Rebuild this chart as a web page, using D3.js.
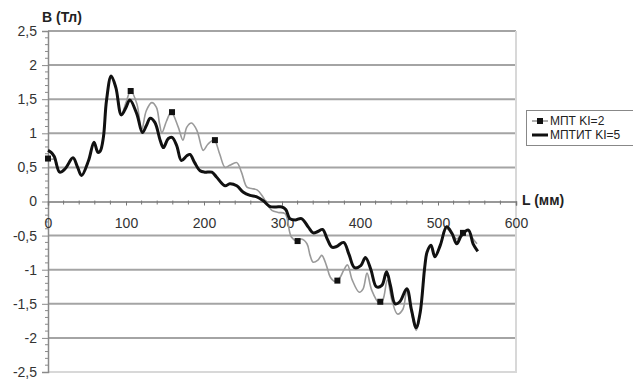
<!DOCTYPE html>
<html>
<head>
<meta charset="utf-8">
<script src="https://cdn.jsdelivr.net/npm/d3@7"></script>
<style>
  body { margin: 0; background: #fff; }
  text { font-family: "Liberation Sans", Arial, sans-serif; }
</style>
</head>
<body>
<div id="chart"></div>
<script>
// МПТИТ Kl=5 (thick black)
const lenK5 = [0, 4, 8, 15, 22, 32, 38, 43, 52, 59, 64, 67, 71, 75, 81, 87, 94, 100, 105, 114, 121, 126, 131, 137, 144, 148, 154, 159, 165, 171, 178, 182, 188, 195, 201, 210, 216, 227, 233, 242, 250, 259, 267, 276, 284, 292, 300, 305, 310, 317, 325, 334, 340, 346, 352, 358, 364, 370, 379, 386, 393, 401, 407, 414, 421, 428, 434, 439, 445, 451, 460, 466, 472, 477, 483, 486, 491, 496, 503, 511, 518, 524, 530, 539, 545, 551];
const bK5 = [0.75, 0.72, 0.66, 0.43, 0.48, 0.64, 0.50, 0.38, 0.60, 0.87, 0.72, 0.74, 0.94, 1.48, 1.84, 1.67, 1.27, 1.38, 1.49, 1.28, 1.01, 1.11, 1.22, 1.16, 0.89, 0.79, 0.92, 0.94, 0.82, 0.60, 0.67, 0.69, 0.57, 0.45, 0.43, 0.43, 0.36, 0.23, 0.26, 0.23, 0.14, 0.09, 0.07, 0.01, -0.07, -0.08, -0.08, -0.12, -0.25, -0.27, -0.25, -0.38, -0.46, -0.44, -0.41, -0.55, -0.67, -0.66, -0.60, -0.78, -0.97, -0.94, -0.82, -1.00, -1.25, -1.23, -1.03, -1.23, -1.50, -1.47, -1.28, -1.59, -1.85, -1.64, -0.96, -0.74, -0.64, -0.81, -0.64, -0.37, -0.47, -0.62, -0.50, -0.42, -0.62, -0.73];

// МПТ Kl=2 (thin grey)
const lenK2 = [0, 5, 9, 15, 22, 32, 38, 43, 52, 59, 64, 67, 71, 75, 81, 87, 94, 100, 106, 114, 120, 126, 133, 139, 143, 146, 152, 158, 167, 173, 178, 184, 191, 199, 205, 213, 220, 227, 233, 242, 248, 255, 261, 268, 276, 282, 287, 295, 304, 312, 320, 325, 332, 336, 340, 346, 351, 357, 362, 368, 374, 379, 384, 390, 399, 404, 409, 415, 424, 429, 435, 441, 448, 455, 460, 466, 472, 477, 483, 486, 491, 496, 503, 511, 518, 524, 531, 538, 545, 550];
const bK2 = [0.63, 0.62, 0.62, 0.43, 0.48, 0.64, 0.50, 0.38, 0.60, 0.87, 0.72, 0.74, 0.94, 1.48, 1.84, 1.67, 1.27, 1.45, 1.62, 1.43, 1.05, 1.33, 1.45, 1.38, 1.14, 1.01, 1.18, 1.31, 1.09, 0.90, 1.09, 1.15, 1.04, 0.75, 0.84, 0.90, 0.70, 0.50, 0.53, 0.57, 0.43, 0.21, 0.19, 0.17, 0.06, -0.06, -0.13, -0.16, -0.18, -0.52, -0.58, -0.55, -0.62, -0.79, -0.89, -0.86, -0.79, -0.94, -1.11, -1.17, -1.12, -1.01, -0.93, -1.15, -1.33, -1.28, -1.05, -1.30, -1.48, -1.45, -1.15, -1.45, -1.65, -1.58, -1.30, -1.62, -1.89, -1.66, -0.97, -0.75, -0.65, -0.80, -0.63, -0.40, -0.48, -0.55, -0.46, -0.42, -0.55, -0.62];

const markLen = [0, 106, 159, 214, 320, 371, 426, 532];
const markB = [0.63, 1.62, 1.31, 0.90, -0.58, -1.16, -1.47, -0.46];

const xTicks = [0, 100, 200, 300, 400, 500, 600];
const yTicks = [-2.5, -2, -1.5, -1, -0.5, 0, 0.5, 1, 1.5, 2, 2.5];
const seriesNames = ["МПТ KI=2", "МПТИТ KI=5"];

const width = 633, height = 379;
const svg = d3.select("#chart").append("svg")
  .attr("width", width)
  .attr("height", height);

const x = d3.scaleLinear().domain([0, 600]).range([48, 516]);
const y = d3.scaleLinear().domain([-2.5, 2.5]).range([372, 31]);
const fmt = d => String(d).replace(".", ",");

// grid
svg.append("g")
  .selectAll("line")
  .data(yTicks.filter(d => d !== 0 && d !== -2.5))
  .join("line")
  .attr("x1", x(0)).attr("x2", x(600))
  .attr("y1", d => y(d)).attr("y2", d => y(d))
  .attr("stroke", "#a4a4a4")
  .attr("stroke-width", 2);

// plot border (bottom, right)
svg.append("path")
  .attr("d", `M${x(0)},${y(-2.5)}H${x(600)}V${y(2.5)}`)
  .attr("fill", "none")
  .attr("stroke", "#d8d8d8")
  .attr("stroke-width", 2);

// y axis
const yAxis = svg.append("g")
  .attr("transform", `translate(${x(0)},0)`)
  .call(d3.axisLeft(y).tickValues(yTicks).tickSize(6).tickFormat(fmt));
yAxis.select(".domain").attr("stroke", "#8a8a8a").attr("stroke-width", 1.5);
yAxis.selectAll(".tick line").attr("stroke", "#8a8a8a");
yAxis.selectAll("text")
  .attr("x", -11)
  .attr("fill", "#333")
  .style("font-size", "14px");

svg.append("g")
  .selectAll("line")
  .data(d3.range(-24, 25).filter(i => i % 5 !== 0).map(i => i / 10))
  .join("line")
  .attr("x1", x(0) - 3).attr("x2", x(0) + 1)
  .attr("y1", d => y(d)).attr("y2", d => y(d))
  .attr("stroke", "#8a8a8a");

// x axis on the zero line
const xAxis = svg.append("g")
  .attr("transform", `translate(0,${y(0)})`)
  .call(d3.axisBottom(x).tickValues(xTicks).tickSize(4).tickFormat(d3.format("d")));
xAxis.select(".domain").attr("stroke", "#777").attr("stroke-width", 1.5);
xAxis.selectAll(".tick line").attr("stroke", "#777");
xAxis.selectAll("text")
  .attr("y", 17)
  .attr("dy", "0.71em")
  .attr("fill", "#333")
  .style("font-size", "14px");

svg.append("g")
  .selectAll("line")
  .data(d3.range(0, 600, 20).filter(d => d % 100 !== 0))
  .join("line")
  .attr("x1", d => x(d)).attr("x2", d => x(d))
  .attr("y1", y(0) - 1).attr("y2", y(0) + 3)
  .attr("stroke", "#777");

// axis titles
svg.append("text")
  .attr("x", 42).attr("y", 22)
  .attr("font-weight", "bold")
  .style("font-size", "14px")
  .attr("fill", "#222")
  .text("B (Тл)");

svg.append("text")
  .attr("x", 522).attr("y", 205)
  .attr("font-weight", "bold")
  .style("font-size", "14px")
  .attr("fill", "#222")
  .text("L (мм)");

// series
const line = d3.line()
  .x(d => x(d[0]))
  .y(d => y(d[1]))
  .curve(d3.curveCatmullRom.alpha(0.5));

svg.append("path")
  .datum(d3.zip(lenK2, bK2))
  .attr("d", line)
  .attr("fill", "none")
  .attr("stroke", "#9a9a9a")
  .attr("stroke-width", 1.6);

svg.append("g")
  .selectAll("rect")
  .data(d3.zip(markLen, markB))
  .join("rect")
  .attr("x", d => x(d[0]) - 3)
  .attr("y", d => y(d[1]) - 3)
  .attr("width", 6).attr("height", 6)
  .attr("fill", "#111");

svg.append("path")
  .datum(d3.zip(lenK5, bK5))
  .attr("d", line)
  .attr("fill", "none")
  .attr("stroke", "#111")
  .attr("stroke-width", 3)
  .attr("stroke-linejoin", "round");

// legend
const lg = svg.append("g");
lg.append("rect")
  .attr("x", 526.5).attr("y", 110.5)
  .attr("width", 120).attr("height", 35)
  .attr("fill", "#fff")
  .attr("stroke", "#888");

lg.append("line")
  .attr("x1", 532).attr("x2", 548).attr("y1", 121).attr("y2", 121)
  .attr("stroke", "#9a9a9a").attr("stroke-width", 1.6);
lg.append("rect")
  .attr("x", 537).attr("y", 118).attr("width", 6).attr("height", 6)
  .attr("fill", "#111");
lg.append("line")
  .attr("x1", 532).attr("x2", 548).attr("y1", 135).attr("y2", 135)
  .attr("stroke", "#111").attr("stroke-width", 3);

lg.selectAll("text")
  .data(seriesNames)
  .join("text")
  .attr("x", 550)
  .attr("y", (d, i) => 121 + i * 14)
  .attr("dy", "0.35em")
  .attr("fill", "#222")
  .style("font-size", "12px")
  .text(d => d);
</script>
</body>
</html>
